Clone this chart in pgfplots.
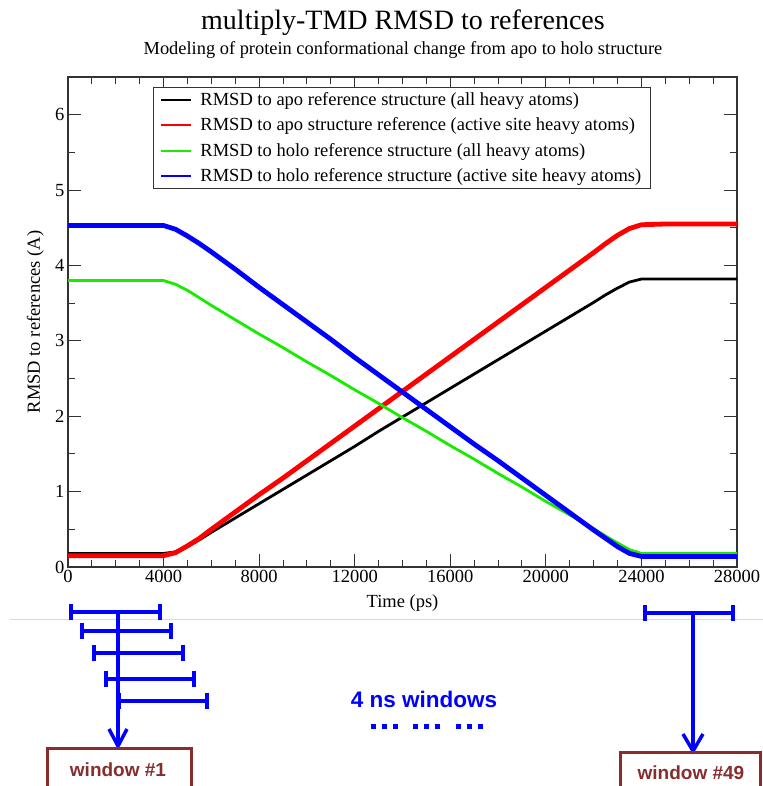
\documentclass[border=0pt]{standalone}
\usepackage{fontspec}
\setmainfont{Liberation Serif}
\newfontfamily\annotfont{Liberation Sans}
\usepackage{pgfplots}
\usepackage{pgfplotstable}
\pgfplotsset{compat=1.18}

\definecolor{holoall}{RGB}{25,235,0}
\definecolor{boxred}{RGB}{135,45,45}
\definecolor{winblue}{RGB}{0,0,255}

% RMSD (A) versus time (ps) for the multiply-targeted MD run
\pgfplotstableread{
t     apoall apoact holoall holoact
0     0.18   0.15   3.80    4.53
1000  0.18   0.15   3.80    4.53
2000  0.18   0.15   3.80    4.53
3000  0.18   0.15   3.80    4.53
4000  0.18   0.15   3.80    4.53
4500  0.20   0.19   3.75    4.48
5000  0.27   0.28   3.67    4.39
5500  0.36   0.38   3.57    4.29
6000  0.46   0.50   3.47    4.18
7000  0.65   0.73   3.28    3.95
8000  0.84   0.96   3.09    3.71
9000  1.03   1.18   2.91    3.48
10000 1.22   1.41   2.72    3.25
11000 1.41   1.64   2.54    3.02
12000 1.60   1.87   2.35    2.78
13000 1.80   2.10   2.17    2.55
14000 1.99   2.33   1.98    2.32
15000 2.18   2.56   1.80    2.09
16000 2.37   2.79   1.61    1.86
17000 2.56   3.02   1.43    1.63
18000 2.75   3.25   1.24    1.41
19000 2.94   3.48   1.06    1.18
20000 3.13   3.71   0.87    0.95
21000 3.32   3.94   0.69    0.72
22000 3.51   4.17   0.51    0.49
22500 3.61   4.29   0.41    0.38
23000 3.70   4.40   0.32    0.27
23500 3.78   4.49   0.23    0.18
24000 3.82   4.54   0.18    0.14
25000 3.82   4.55   0.18    0.14
26000 3.82   4.55   0.18    0.14
27000 3.82   4.55   0.18    0.14
28000 3.82   4.55   0.18    0.14
}\rmsd

\begin{document}
\begin{tikzpicture}
\begin{axis}[
  at={(68bp,219bp)}, anchor=south west,
  width=669bp, height=490bp, scale only axis,
  xmin=0, xmax=28000, ymin=0, ymax=6.5,
  xtick={0,4000,...,28000}, minor x tick num=3,
  ytick={0,1,...,6}, minor y tick num=1,
  scaled x ticks=false,
  /pgf/number format/1000 sep={},
  /pgf/number format/assume math mode=true,
  tick align=inside,
  major tick length=13bp, minor tick length=7bp,
  axis line style={line width=1.3bp, black!80},
  every tick/.style={line width=1bp, black!80},
  font=\fontsize{18.5bp}{22bp}\selectfont,
  tick label style={font=\fontsize{18.5bp}{22bp}\selectfont},
  xlabel={Time (ps)},
  ylabel={RMSD to references (A)},
  xlabel style={at={(axis description cs:0.5,-0.0735)}, anchor=center},
  ylabel style={at={(axis description cs:-0.049,0.5)}, anchor=center},
  legend cell align=left,
  legend image code/.code={\draw[#1, line width=2bp] (0bp,0bp) -- (30bp,0bp);},
  legend style={at={(axis description cs:0.127,0.98)}, anchor=north west,
    draw=black!80, line width=1bp, fill=white,
    font=\fontsize{18.5bp}{22bp}\selectfont,
    inner xsep=7bp, inner ysep=3bp, row sep=7bp,
    /tikz/every odd column/.append style={column sep=6bp}},
]
\addplot[black, line width=2.8bp, line join=round] table[x=t, y=apoall] {\rmsd};
\addlegendentry{RMSD to apo reference structure (all heavy atoms)}
\addplot[red, line width=4.8bp, line join=round] table[x=t, y=apoact] {\rmsd};
\addlegendentry{RMSD to apo structure reference (active site heavy atoms)}
\addplot[holoall, line width=2.8bp, line join=round] table[x=t, y=holoall] {\rmsd};
\addlegendentry{RMSD to holo reference structure (all heavy atoms)}
\addplot[winblue, line width=4.8bp, line join=round] table[x=t, y=holoact] {\rmsd};
\addlegendentry{RMSD to holo reference structure (active site heavy atoms)}
\end{axis}

\begin{scope}[x=1bp, y=-1bp, shift={(0bp,786bp)}]
  % titles
  \node[anchor=base, font=\fontsize{28bp}{32bp}\selectfont] at (403,30) {multiply-TMD RMSD to references};
  \node[anchor=base, font=\fontsize{18.4bp}{21bp}\selectfont] at (403,55) {Modeling of protein conformational change from apo to holo structure};
  % separator
  \draw[black!15, line width=1bp] (10,620) -- (763,620);
  % sliding 4 ns windows
  \foreach \a/\b/\y in {71/160/612, 82/171/631, 94/183/653, 106/194/679, 119/207/701}{
    \draw[winblue, line width=3.5bp] (\a,\y) -- (\b,\y);
    \draw[winblue, line width=3.5bp] (\a,\y-8) -- (\a,\y+8);
    \draw[winblue, line width=3.5bp] (\b,\y-8) -- (\b,\y+8);
  }
  \draw[winblue, line width=3.5bp] (118,612) -- (118,745);
  \draw[winblue, line width=3.5bp] (109,729) -- (118,746) -- (127,729);
  \draw[winblue, line width=3.5bp] (645,613) -- (733,613);
  \draw[winblue, line width=3.5bp] (645,605) -- (645,621);
  \draw[winblue, line width=3.5bp] (733,605) -- (733,621);
  \draw[winblue, line width=3.5bp] (693,613) -- (693,750);
  \draw[winblue, line width=3.5bp] (683,734) -- (693,751) -- (703,734);
  \node[winblue, font=\annotfont\bfseries\fontsize{22.5bp}{26bp}\selectfont] at (424,699) {4 ns windows};
  \foreach \x in {373,384,395,415,426,437,458,469,480}
    \fill[winblue] (\x-2.5,724.5) rectangle (\x+2.5,729.5);
  % window boxes
  \draw[boxred, line width=3bp] (47,749) rectangle (191,800);
  \draw[boxred, line width=3bp] (620,753) rectangle (760,800);
  \node[boxred, font=\annotfont\bfseries\fontsize{19bp}{22bp}\selectfont] at (118,770) {window \#1};
  \node[boxred, font=\annotfont\bfseries\fontsize{19bp}{22bp}\selectfont] at (691,773) {window \#49};
\end{scope}

\pgfresetboundingbox
\path[use as bounding box] (0,0) rectangle (763bp,786bp);
\end{tikzpicture}
\end{document}
